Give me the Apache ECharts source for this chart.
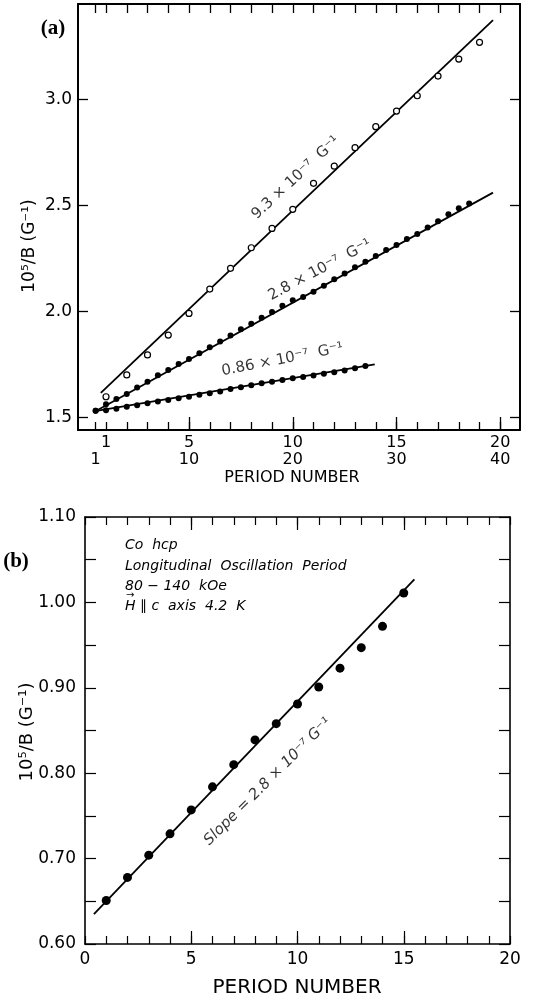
<!DOCTYPE html>
<html>
<head>
<meta charset="utf-8">
<script src="https://cdn.jsdelivr.net/npm/echarts@6/dist/echarts.min.js"></script>
<style>html,body{margin:0;padding:0;background:#fff}#c{width:541px;height:1001px}</style>
</head>
<body>
<div id="c"></div>
<script>
// ---------- Panel (a) data ----------
// open circles, slope 9.3e-7 G^-1, upper period scale (1..20)
const openPeriods = [1,2,3,4,5,6,7,8,9,10,11,12,13,14,15,16,17,18,19];
const openValues  = [1.597,1.700,1.794,1.888,1.990,2.105,2.203,2.300,2.391,2.481,2.604,2.685,2.772,2.871,2.945,3.017,3.110,3.190,3.269];
const fit93 = [[0.75,1.615],[19.65,3.374]];

// filled dots, slope 2.8e-7 G^-1, lower period scale (1..40)
const mid28Periods = [1,2,3,4,5,6,7,8,9,10,11,12,13,14,15,16,17,18,19,20,21,22,23,24,25,26,27,28,29,30,31,32,33,34,35,36,37];
const mid28Values  = [1.531,1.562,1.586,1.610,1.641,1.668,1.698,1.723,1.751,1.775,1.802,1.830,1.857,1.886,1.915,1.941,1.970,1.997,2.026,2.052,2.068,2.092,2.121,2.151,2.179,2.208,2.234,2.261,2.289,2.313,2.341,2.365,2.396,2.425,2.458,2.486,2.509];
const fit28 = [[0.8,1.524],[39.3,2.560]];

// filled dots, slope 0.86e-7 G^-1, lower period scale
const low086Periods = [1,2,3,4,5,6,7,8,9,10,11,12,13,14,15,16,17,18,19,20,21,22,23,24,25,26,27];
const low086Values  = [1.531,1.533,1.540,1.550,1.557,1.566,1.574,1.582,1.590,1.597,1.606,1.613,1.622,1.634,1.642,1.651,1.660,1.668,1.676,1.684,1.690,1.697,1.705,1.713,1.721,1.731,1.742];
const fit086 = [[0.8,1.528],[27.9,1.750]];

const upperTickLabels = [1,5,10,15,20];
const lowerTickLabels = [1,10,20,30,40];
const yTicksA = [1.5,2.0,2.5,3.0];

// line annotations (panel a): [x, y, text, angle]
const annotUpper = [[10.15,2.63,'9.3 × 10⁻⁷  G⁻¹',43]];
const annotLower = [[22.6,2.195,'2.8 × 10⁻⁷  G⁻¹',28],[19.0,1.772,'0.86 × 10⁻⁷  G⁻¹',11]];

// ---------- Panel (b) data ----------
const bPeriods = [1,2,3,4,5,6,7,8,9,10,11,12,13,14,15];
const bValues  = [0.651,0.678,0.704,0.729,0.757,0.784,0.810,0.839,0.858,0.881,0.901,0.923,0.947,0.972,1.011];
const fitB = [[0.42,0.635],[15.5,1.027]];
const annotB = [[8.6,0.79,'Slope = 2.8 × 10⁻⁷ G⁻¹',45]];
const bXLabels = [0,5,10,15,20];
const bYLabels = [0.60,0.70,0.80,0.90,1.00,1.10];
const bYTicks = [0.60,0.65,0.70,0.75,0.80,0.85,0.90,0.95,1.00,1.05,1.10];

// ---------- helpers ----------
const F = 'DejaVu Sans';
const range = (a,b)=>{const r=[];for(let i=a;i<=b;i++)r.push(i);return r;};
const pairs = (xs,ys)=>xs.map((x,i)=>[x,ys[i]]);

const uMin=-0.35, uMax=20.95;
const gridA={left:78,top:4,width:442,height:426,outerBoundsMode:'none'};
const gridB={left:85,top:517,width:425,height:427,outerBoundsMode:'none'};

function xAx(o){
  return Object.assign({type:'value',splitLine:{show:false},
    axisLine:{show:false},axisTick:{show:false},axisLabel:{show:false}},o);
}
const lineStyleA={color:'#000',width:2};
const lineStyleB={color:'#000',width:1.6};

const xAxes=[
  xAx({gridIndex:0,min:uMin,max:uMax,position:'bottom',
    axisLine:{show:true,onZero:false,lineStyle:lineStyleA},
    axisTick:{show:true,inside:true,length:8,lineStyle:{color:'#000',width:1.3},customValues:[0.5].concat(range(1,20))},
    axisLabel:{show:true,margin:5,color:'#000',fontFamily:F,fontSize:16,customValues:upperTickLabels}}),
  xAx({gridIndex:0,min:uMin*2,max:uMax*2,position:'bottom',offset:17,
    axisLabel:{show:true,margin:5,color:'#000',fontFamily:F,fontSize:16,customValues:lowerTickLabels}}),
  xAx({gridIndex:0,min:uMin,max:uMax,position:'top',
    axisLine:{show:true,onZero:false,lineStyle:lineStyleA},
    axisTick:{show:true,inside:true,length:9,lineStyle:{color:'#000',width:1.3},customValues:[0.5].concat(range(1,20))}}),
  xAx({gridIndex:0,min:uMin,max:uMax,position:'bottom',
    axisTick:{show:true,inside:true,length:13,lineStyle:{color:'#000',width:1.3},customValues:[5,10,15,20]}}),
  xAx({gridIndex:1,min:0,max:20,position:'bottom',
    axisLine:{show:true,onZero:false,lineStyle:lineStyleB},
    axisTick:{show:true,inside:true,length:8,lineStyle:{color:'#000',width:1.2},customValues:range(0,20)},
    axisLabel:{show:true,margin:7,color:'#000',fontFamily:F,fontSize:17,customValues:bXLabels}}),
  xAx({gridIndex:1,min:0,max:20,position:'bottom',
    axisTick:{show:true,inside:true,length:13,lineStyle:{color:'#000',width:1.2},customValues:[5,10,15]}}),
  xAx({gridIndex:1,min:0,max:20,position:'top',
    axisLine:{show:true,onZero:false,lineStyle:lineStyleB},
    axisTick:{show:true,inside:true,length:8,lineStyle:{color:'#000',width:1.2},customValues:range(0,20)}}),
  xAx({gridIndex:1,min:0,max:20,position:'top',
    axisTick:{show:true,inside:true,length:13,lineStyle:{color:'#000',width:1.2},customValues:[5,10,15]}})
];

const yAxes=[
  xAx({gridIndex:0,min:1.44,max:3.45,position:'left',
    axisLine:{show:true,onZero:false,lineStyle:lineStyleA},
    axisTick:{show:true,inside:true,length:10,lineStyle:{color:'#000',width:1.3},customValues:yTicksA},
    axisLabel:{show:true,margin:6,color:'#000',fontFamily:F,fontSize:17,customValues:yTicksA,formatter:v=>Number(v).toFixed(1)}}),
  xAx({gridIndex:0,min:1.44,max:3.45,position:'right',
    axisLine:{show:true,onZero:false,lineStyle:lineStyleA},
    axisTick:{show:true,inside:true,length:10,lineStyle:{color:'#000',width:1.3},customValues:yTicksA}}),
  xAx({gridIndex:1,min:0.6,max:1.1,position:'left',
    axisLine:{show:true,onZero:false,lineStyle:lineStyleB},
    axisTick:{show:true,inside:true,length:11,lineStyle:{color:'#000',width:1.2},customValues:bYTicks},
    axisLabel:{show:true,margin:9,color:'#000',fontFamily:F,fontSize:17,customValues:bYLabels,formatter:v=>Number(v).toFixed(2)}}),
  xAx({gridIndex:1,min:0.6,max:1.1,position:'right',
    axisLine:{show:true,onZero:false,lineStyle:lineStyleB},
    axisTick:{show:true,inside:true,length:11,lineStyle:{color:'#000',width:1.2},customValues:bYTicks}})
];

function fitLine(data,xi,yi,w){
  return {type:'line',xAxisIndex:xi,yAxisIndex:yi,data:data,symbol:'none',silent:true,
    lineStyle:{color:'#000',width:w},z:2,animation:false};
}
function annot(list,xi,yi,italic){
  return {type:'scatter',xAxisIndex:xi,yAxisIndex:yi,symbolSize:0,silent:true,animation:false,
    data:list.map(a=>({value:[a[0],a[1]],label:{rotate:a[3],formatter:a[2]}})),
    label:{show:true,position:'inside',color:'#000',fontFamily:F,fontSize:15,fontStyle:italic?'italic':'normal'}};
}

const series=[
  fitLine(fit93,0,0,1.8),
  {type:'scatter',xAxisIndex:0,yAxisIndex:0,data:pairs(openPeriods,openValues),symbol:'circle',symbolSize:6,
   itemStyle:{color:'#fff',borderColor:'#000',borderWidth:1.2,opacity:1},z:3,animation:false},
  fitLine(fit28,1,0,1.8),
  {type:'scatter',xAxisIndex:1,yAxisIndex:0,data:pairs(mid28Periods,mid28Values),symbol:'circle',symbolSize:6,
   itemStyle:{color:'#000',opacity:1},z:3,animation:false},
  fitLine(fit086,1,0,1.8),
  {type:'scatter',xAxisIndex:1,yAxisIndex:0,data:pairs(low086Periods,low086Values),symbol:'circle',symbolSize:6,
   itemStyle:{color:'#000',opacity:1},z:3,animation:false},
  annot(annotUpper,0,0,false),
  annot(annotLower,1,0,false),
  fitLine(fitB,4,2,1.8),
  {type:'scatter',xAxisIndex:4,yAxisIndex:2,data:pairs(bPeriods,bValues),symbol:'circle',symbolSize:9,
   itemStyle:{color:'#000',opacity:1},z:3,animation:false},
  annot(annotB,4,2,true)
];

const txt=(x,y,text,size,extra)=>Object.assign({type:'text',x:x,y:y,
  style:{text:text,fill:'#000',font:(extra&&extra.font)||(size+'px "'+F+'"'),align:'center',verticalAlign:'middle'}},extra&&extra.el||{});

const graphics=[
  txt(53,29,'(a)',20,{font:'bold 21px "Liberation Serif"'}),
  txt(16,562,'(b)',20,{font:'bold 21px "Liberation Serif"'}),
  txt(292,478,'PERIOD NUMBER',16),
  txt(297,988,'PERIOD NUMBER',20),
  txt(30,246,'10⁵/B (G⁻¹)',17,{el:{rotation:Math.PI/2}}),
  txt(27,732,'10⁵/B (G⁻¹)',18,{el:{rotation:Math.PI/2}}),
  {type:'text',x:125,y:545,style:{text:'Co  hcp',fill:'#000',font:'italic 14px "'+F+'"',align:'left',verticalAlign:'middle'}},
  {type:'text',x:125,y:566,style:{text:'Longitudinal  Oscillation  Period',fill:'#000',font:'italic 14px "'+F+'"',align:'left',verticalAlign:'middle'}},
  {type:'text',x:125,y:586,style:{text:'80 − 140  kOe',fill:'#000',font:'italic 14px "'+F+'"',align:'left',verticalAlign:'middle'}},
  {type:'text',x:125,y:606,style:{text:'H ∥ c  axis  4.2  K',fill:'#000',font:'italic 14px "'+F+'"',align:'left',verticalAlign:'middle'}},
  {type:'text',x:126,y:595,style:{text:'→',fill:'#000',font:'10px "'+F+'"',align:'left',verticalAlign:'middle'}}
];

const chart=echarts.init(document.getElementById('c'),null,{renderer:'canvas'});
chart.setOption({
  animation:false,
  backgroundColor:'#fff',
  grid:[gridA,gridB],
  xAxis:xAxes,
  yAxis:yAxes,
  series:series,
  graphic:graphics
});
</script>
</body>
</html>
